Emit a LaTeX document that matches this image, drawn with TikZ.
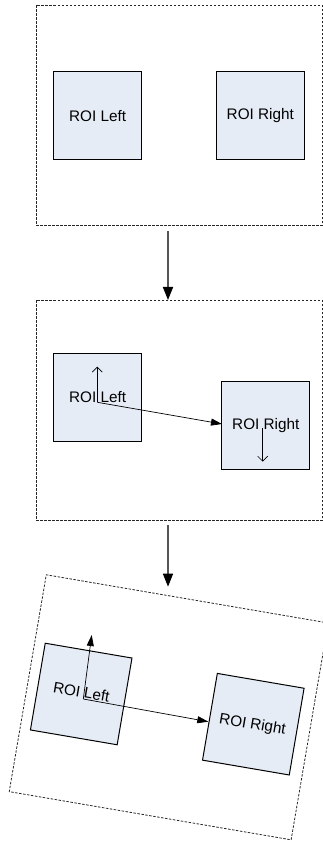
\documentclass[tikz,border=0pt]{standalone}
\usepackage{fontspec}
\setmainfont{Liberation Sans}
\usetikzlibrary{arrows.meta}
\definecolor{roifill}{RGB}{230,236,246}
\definecolor{flowgray}{RGB}{85,85,85}
\begin{document}
\begin{tikzpicture}[x=1pt,y=1pt,
  panel/.style={draw=black!85, dash pattern=on 2.5pt off 1.5pt, line width=0.8pt,
    minimum width=286pt, minimum height=220pt, inner sep=0pt},
  roi/.style={draw=black, fill=roifill, line width=1pt, minimum size=88pt,
    inner sep=0pt, font=\fontsize{15.3}{18}\selectfont},
  lbl/.style={inner sep=0pt, font=\fontsize{15.3}{18}\selectfont},
  flow/.style={draw=flowgray, line width=1.6pt, -{Triangle[length=13pt,width=10pt,color=black,fill=black]}},
  vec/.style={line width=0.7pt, -{Triangle[length=11pt,width=7pt]}},
  barb/.style={line width=0.7pt, -{Straight Barb[length=5pt,width=10pt]}}
]
\useasboundingbox (0,0) rectangle (323,844);
\clip (0,0) rectangle (323,844);

% Panel 1
\node[panel] (p1) at (179,728.5) {};
\node[roi] (l1) at (97.6,728.2) {ROI Left};
\node[roi] (r1) at (260.3,728.2) {ROI Right};

% Arrow 1
\coordinate (a1s) at (168,613);
\coordinate (a1e) at (168,544);
\draw[flow] (a1s) -- (a1e);

% Panel 2
\node[panel] (p2) at (179,433.6) {};
\node[roi] (l2) at (97.6,446.8) {ROI Left};
\node[roi] (r2) at (265.8,418.5) {ROI Right};
\coordinate (o2) at (97.3,441.7);
\coordinate (u2) at (97.3,477.3);
\coordinate (e2) at (222,420);
\coordinate (d2s) at (262.7,415.7);
\coordinate (d2e) at (262.7,382.3);
\draw[barb] (o2) -- (u2);
\draw[vec] (o2) -- (e2);
\draw[barb] (d2s) -- (d2e);

% Arrow 2
\coordinate (a2s) at (168,319);
\coordinate (a2e) at (168,257.3);
\draw[flow] (a2s) -- (a2e);

% Panel 3 (rotated)
\node[panel, rotate=-9.7] (p3) at (168.7,136.7) {};
\node[roi, rotate=-9.7] (l3) at (81.2,150) {};
\node[roi, rotate=-9.7] (r3) at (253.3,119.8) {};
\node[lbl, rotate=-9.7] (t3l) at (81.5,152) {ROI Left};
\node[lbl, rotate=-9.7] (t3r) at (252.5,119) {ROI Right};
\coordinate (o3) at (83.3,145);
\coordinate (u3) at (91.7,209);
\coordinate (e3) at (208.3,122.3);
\draw[vec] (o3) -- (u3);
\draw[vec] (o3) -- (e3);
\end{tikzpicture}
\end{document}
